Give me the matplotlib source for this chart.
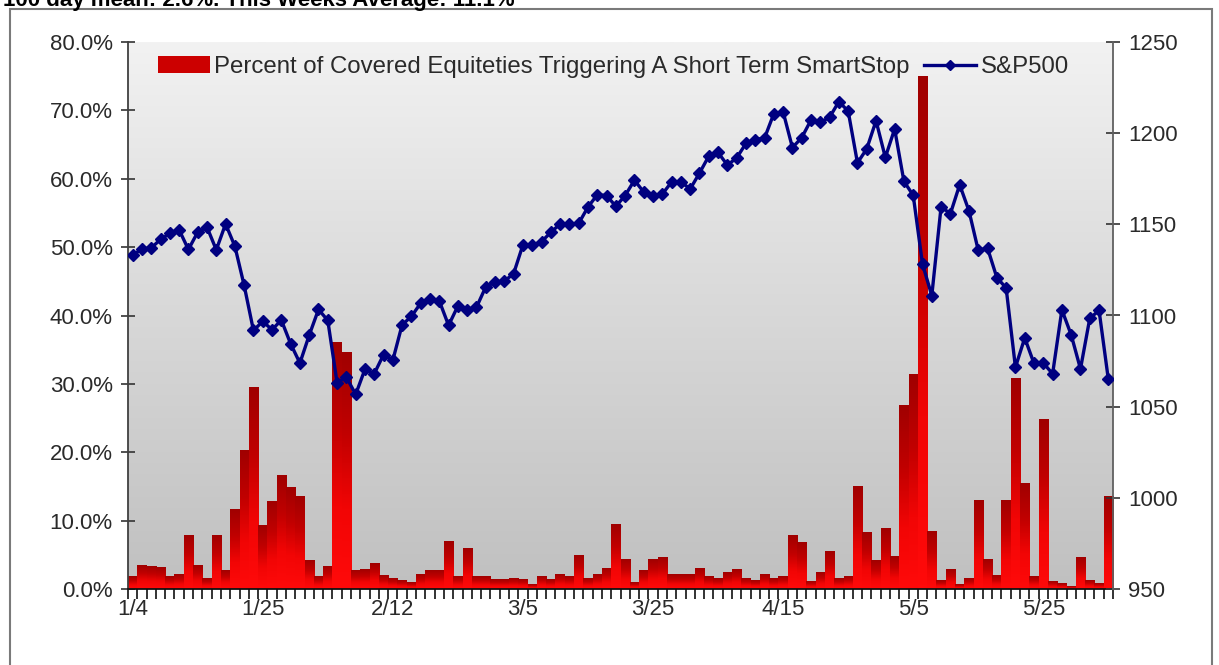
import numpy as np
import matplotlib
matplotlib.use('Agg')
import matplotlib.pyplot as plt
from matplotlib.patches import Rectangle
from matplotlib.lines import Line2D
from matplotlib.colors import LinearSegmentedColormap

# ---------------- data ----------------
tick_labels = ['1/4', '1/25', '2/12', '3/5', '3/25', '4/15', '5/5', '5/25']
tick_every = 14

pct = [1.8, 3.5, 3.3, 3.2, 1.8, 2.1, 7.8, 3.5, 1.5, 7.8,
       2.7, 11.7, 20.2, 29.5, 9.3, 12.8, 16.6, 14.8, 13.6, 4.1,
       1.8, 3.3, 36.0, 34.6, 2.7, 2.9, 3.8, 2.0, 1.6, 1.3,
       1.0, 2.1, 2.7, 2.7, 7.0, 1.8, 5.9, 1.8, 1.8, 1.4,
       1.4, 1.6, 1.4, 0.7, 1.8, 1.4, 2.1, 1.8, 4.9, 1.5,
       2.1, 3.0, 9.5, 4.3, 1.0, 2.7, 4.3, 4.6, 2.1, 2.1,
       2.1, 3.0, 1.8, 1.6, 2.4, 2.9, 1.6, 1.3, 2.1, 1.6,
       1.8, 7.8, 6.8, 1.1, 2.4, 5.5, 1.5, 1.8, 15.0, 8.2,
       4.2, 8.9, 4.8, 26.9, 31.3, 75.0, 8.4, 1.3, 2.9, 0.6,
       1.6, 13.0, 4.3, 2.0, 13.0, 30.8, 15.5, 1.8, 24.8, 1.1,
       0.8, 0.4, 4.6, 1.3, 0.8, 13.6]

spx = [1133.0, 1136.5, 1137.1, 1141.7, 1145.0, 1147.0, 1136.2, 1145.7, 1148.5, 1136.0,
       1150.2, 1138.0, 1116.5, 1091.8, 1096.8, 1092.2, 1097.5, 1084.5, 1073.9, 1089.2,
       1103.3, 1097.3, 1063.1, 1066.2, 1056.7, 1070.5, 1068.1, 1078.5, 1075.5, 1094.9,
       1099.5, 1106.8, 1109.2, 1108.0, 1094.6, 1105.2, 1102.9, 1104.5, 1115.7, 1118.3,
       1118.8, 1123.0, 1138.7, 1138.5, 1140.5, 1145.6, 1150.2, 1150.0, 1150.5, 1159.5,
       1166.2, 1165.8, 1159.9, 1165.8, 1174.2, 1167.7, 1165.7, 1166.6, 1173.2, 1173.3,
       1169.4, 1178.1, 1187.4, 1189.4, 1182.5, 1186.4, 1194.4, 1196.5, 1197.3, 1210.7,
       1211.7, 1192.1, 1197.5, 1207.2, 1205.9, 1208.7, 1217.3, 1212.1, 1183.7, 1191.4,
       1206.8, 1186.7, 1202.3, 1173.6, 1165.9, 1128.2, 1110.9, 1159.7, 1155.8, 1171.7,
       1157.4, 1135.7, 1136.9, 1120.8, 1115.1, 1071.6, 1087.7, 1073.7, 1074.0, 1068.0,
       1103.1, 1089.4, 1070.7, 1098.4, 1102.8, 1064.9]

left_ticks = [0, 10, 20, 30, 40, 50, 60, 70, 80]
right_ticks = [950, 1000, 1050, 1100, 1150, 1200, 1250]

bar_label = 'Percent of Covered Equiteties Triggering A Short Term SmartStop'
line_label = 'S&P500'
header = '100 day mean: 2.6%. This Weeks Average: 11.1%'

# ---------------- style ----------------
plt.rcParams['font.family'] = ['Liberation Sans', 'DejaVu Sans']
FS = 16
TXT = '#2a2a2a'

W, H = 1219, 665
fig = plt.figure(figsize=(W / 100, H / 100), dpi=100)
fig.patch.set_facecolor('white')

L, R, T, B = 128, 1113, 42, 589
ax = fig.add_axes([L / W, 1 - B / H, (R - L) / W, (B - T) / H])

n = len(pct)
x = np.arange(n)
xmin, xmax = -0.5, n - 0.5

# background gradient
bg = LinearSegmentedColormap.from_list('bg', ['#C0C0C0', '#D8D8D8', '#F2F2F2'])
ax.imshow(np.linspace(0, 1, 256).reshape(-1, 1), cmap=bg, origin='lower',
          extent=[xmin, xmax, 0, 80], aspect='auto', zorder=0)

# bars with vertical gradient
bars = ax.bar(x, pct, width=1.0, color='none', linewidth=0, zorder=2)
bcm = LinearSegmentedColormap.from_list('bar', ['#FF0A0A', '#F20505', '#C00000', '#A00000'])
grad = np.linspace(0, 1, 128).reshape(-1, 1)
for b in bars:
    x0, y0, w, h = b.get_x(), b.get_y(), b.get_width(), b.get_height()
    ax.imshow(grad, cmap=bcm, origin='lower', extent=[x0, x0 + w, y0, y0 + h],
              aspect='auto', zorder=2, interpolation='bilinear')

ax.set_xlim(xmin, xmax)
ax.set_ylim(0, 80)
ax.set_yticks(left_ticks)
ax.set_yticklabels([f'{v:.1f}%' for v in left_ticks], fontsize=FS, color=TXT)
ax.tick_params(axis='y', direction='inout', length=10, width=1.2, color='#333333', pad=6)

# x ticks: marks at every category boundary, labels at every 14th category
ax.set_xticks(np.arange(xmin, xmax + 0.01, 1.0))
ax.set_xticklabels([])
ax.tick_params(axis='x', which='major', direction='out', length=7, width=1.2, color='#111111')
ax.set_xticks(np.arange(0, n, tick_every), minor=True)
ax.set_xticklabels(tick_labels, minor=True, fontsize=FS, color=TXT)
ax.tick_params(axis='x', which='minor', length=0, pad=7)

for s in ['top', 'right']:
    ax.spines[s].set_visible(False)
ax.spines['left'].set_color('#404040')
ax.spines['left'].set_linewidth(1.3)
ax.spines['bottom'].set_color('#111111')
ax.spines['bottom'].set_linewidth(1.3)

# S&P500 line on right axis
ax2 = ax.twinx()
ax2.plot(x, spx, color='#000080', lw=2.4, marker='D', markersize=6,
         markerfacecolor='#000080', markeredgecolor='#000080', zorder=5)
ax2.set_ylim(950, 1250)
ax2.set_yticks(right_ticks)
ax2.set_yticklabels([str(v) for v in right_ticks], fontsize=FS, color=TXT)
ax2.tick_params(axis='y', direction='inout', length=10, width=1.2, color='#333333', pad=6)
ax2.set_xlim(xmin, xmax)
ax2.spines['top'].set_visible(False)
ax2.spines['left'].set_visible(False)
ax2.spines['bottom'].set_visible(False)
ax2.spines['right'].set_color('#606060')
ax2.spines['right'].set_linewidth(1.3)

# legend
handles = [Rectangle((0, 0), 1, 1, facecolor='#CC0000', edgecolor='none'),
           Line2D([], [], color='#000080', lw=2.4, marker='D', markersize=5)]
fig.legend(handles, [bar_label, line_label], ncol=2, frameon=False,
           loc='upper left', bbox_to_anchor=(158 / W, 1 - 56 / H),
           fontsize=17.3, labelcolor=TXT, handlelength=2.15, handleheight=0.7,
           handletextpad=0.2, columnspacing=0.6, borderpad=0, borderaxespad=0)

# outer frame and (clipped, as in the original) header
fig.add_artist(Rectangle((10 / W, -0.02), (1212 - 10) / W, 1 - 9 / H + 0.02,
                         transform=fig.transFigure, fill=False,
                         edgecolor='#7a7a7a', linewidth=1.5))
fig.text(3 / W, 1 - 6 / H, header, fontsize=16, fontweight='bold',
         color='black', va='baseline', ha='left')

fig.savefig('out.png', dpi=100)
